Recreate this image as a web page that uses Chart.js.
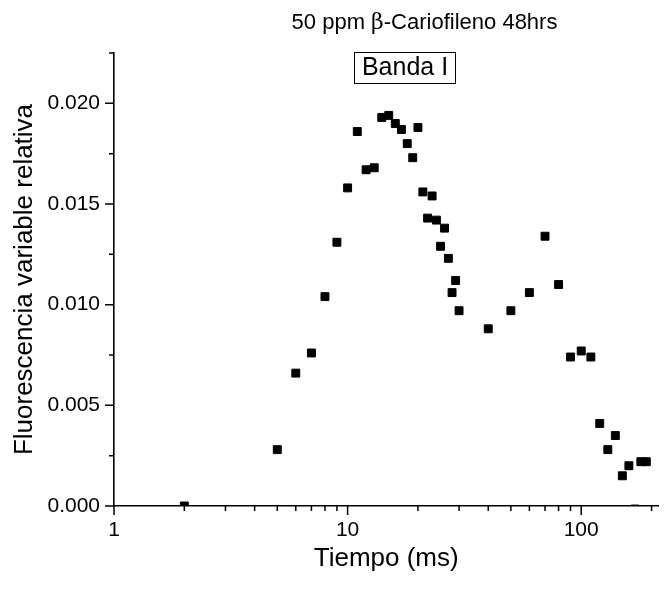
<!DOCTYPE html>
<html>
<head>
<meta charset="utf-8">
<title>Banda I</title>
<script src="https://cdn.jsdelivr.net/npm/chart.js@4.4.0/dist/chart.umd.min.js"></script>
<style>
    body { margin: 0; background: #fff; }
    #grafico { display: block; }
</style>
</head>
<body>
<canvas id="grafico" width="665" height="589"></canvas>
<script>
const tiempo = [2, 5, 6, 7, 8, 9, 10, 11, 12, 13, 14, 15, 16, 17, 18, 19, 20,
    21, 22, 23, 24, 25, 26, 27, 28, 29, 30, 40, 50, 60, 70, 80, 90,
    100, 110, 120, 130, 140, 150, 160, 170, 180, 190];
const fluorescencia = [0.0000, 0.0028, 0.0066, 0.0076, 0.0104, 0.0131, 0.0158, 0.0186, 0.0167, 0.0168, 0.0193, 0.0194, 0.0190, 0.0187, 0.0180, 0.0173, 0.0188,
    0.0156, 0.0143, 0.0154, 0.0142, 0.0129, 0.0138, 0.0123, 0.0106, 0.0112, 0.0097, 0.0088, 0.0097, 0.0106, 0.0134, 0.0110, 0.0074,
    0.0077, 0.0074, 0.0041, 0.0028, 0.0035, 0.0015, 0.0020, -0.00015, 0.0022, 0.0022];

const xTicksMayores = [1, 10, 100];
const xEtiquetas = ['1', '10', '100'];
const xTicksMenores = [2, 3, 4, 5, 6, 7, 8, 9, 20, 30, 40, 50, 60, 70, 80, 90, 200];
const yTicksMayores = [0, 0.005, 0.010, 0.015, 0.020];
const yEtiquetas = ['0.000', '0.005', '0.010', '0.015', '0.020'];
const yTicksMenores = [0.0025, 0.0075, 0.0125, 0.0175, 0.0225];

const FUENTE = "'Liberation Sans', Arial, sans-serif";

function buscar(lista, v) {
    return lista.findIndex(t => Math.abs(t - v) < 1e-9);
}

// marcas de los ejes, titulo y recuadro "Banda I"
const extras = {
    id: 'extras',
    afterDraw(chart) {
        const ctx = chart.ctx;
        const sx = chart.scales.x, sy = chart.scales.y;
        const area = chart.chartArea;
        ctx.save();
        ctx.strokeStyle = '#000';
        ctx.lineWidth = 1.5;
        ctx.beginPath();
        xTicksMayores.forEach(v => {
            const px = sx.getPixelForValue(v);
            ctx.moveTo(px, area.bottom); ctx.lineTo(px, area.bottom + 9);
        });
        xTicksMenores.forEach(v => {
            const px = sx.getPixelForValue(v);
            ctx.moveTo(px, area.bottom); ctx.lineTo(px, area.bottom + 5);
        });
        yTicksMayores.forEach(v => {
            const py = sy.getPixelForValue(v);
            ctx.moveTo(area.left, py); ctx.lineTo(area.left - 9, py);
        });
        yTicksMenores.forEach(v => {
            const py = sy.getPixelForValue(v);
            ctx.moveTo(area.left, py); ctx.lineTo(area.left - 5, py);
        });
        ctx.stroke();

        // titulo con la beta en otra fuente
        const partes = [
            { t: '50 ppm ', f: '22px ' + FUENTE },
            { t: 'β', f: "22px 'DejaVu Serif', 'Liberation Serif', serif" },
            { t: '-Cariofileno 48hrs', f: '22px ' + FUENTE }
        ];
        let total = 0;
        partes.forEach(p => { ctx.font = p.f; p.w = ctx.measureText(p.t).width; total += p.w; });
        let x = 424.5 - total / 2;
        ctx.fillStyle = '#000';
        ctx.textBaseline = 'middle';
        ctx.textAlign = 'left';
        partes.forEach(p => { ctx.font = p.f; ctx.fillText(p.t, x, 23); x += p.w; });

        ctx.lineWidth = 1;
        ctx.strokeRect(354.5, 52.5, 101, 31);
        ctx.font = '25px ' + FUENTE;
        ctx.textAlign = 'center';
        ctx.fillText('Banda I', 405, 68.5);
        ctx.restore();
    }
};

new Chart(document.getElementById('grafico'), {
    type: 'scatter',
    data: {
        datasets: [{
            data: tiempo.map((t, i) => ({ x: t, y: fluorescencia[i] })),
            pointStyle: 'rect',
            pointRadius: 5.6,
            pointHoverRadius: 5.6,
            backgroundColor: '#000',
            borderColor: '#000',
            borderWidth: 1,
            clip: 0
        }]
    },
    options: {
        responsive: false,
        animation: false,
        events: [],
        layout: { padding: { top: 53, left: 0, right: 0, bottom: 0 } },
        plugins: { legend: { display: false }, tooltip: { enabled: false } },
        scales: {
            x: {
                type: 'logarithmic',
                min: 1,
                max: 214,
                afterFit: s => { s.height = 83; },
                afterBuildTicks: s => {
                    s.ticks = xTicksMayores.concat(xTicksMenores).sort((a, b) => a - b).map(v => ({ value: v }));
                },
                grid: { display: false, drawTicks: true, tickLength: 9 },
                border: { display: true, color: '#000', width: 1.6 },
                ticks: {
                    autoSkip: false,
                    maxRotation: 0,
                    padding: 3,
                    color: '#000',
                    font: { family: FUENTE, size: 21 },
                    callback: v => { const i = buscar(xTicksMayores, v); return i >= 0 ? xEtiquetas[i] : ''; }
                },
                title: {
                    display: true,
                    text: 'Tiempo (ms)',
                    color: '#000',
                    font: { family: FUENTE, size: 26 },
                    padding: { top: 0, bottom: 15 }
                }
            },
            y: {
                min: 0,
                max: 0.0225,
                afterFit: s => { s.width = 114; },
                afterBuildTicks: s => {
                    s.ticks = yTicksMayores.concat(yTicksMenores).sort((a, b) => a - b).map(v => ({ value: v }));
                },
                grid: { display: false, drawTicks: true, tickLength: 9 },
                border: { display: true, color: '#000', width: 1.6 },
                ticks: {
                    autoSkip: false,
                    padding: 5,
                    color: '#000',
                    font: { family: FUENTE, size: 21 },
                    callback: v => { const i = buscar(yTicksMayores, v); return i >= 0 ? yEtiquetas[i] : ''; }
                },
                title: {
                    display: true,
                    text: 'Fluorescencia variable relativa',
                    color: '#000',
                    font: { family: FUENTE, size: 26 },
                    padding: { top: 9, bottom: 0 }
                }
            }
        }
    },
    plugins: [extras]
});
</script>
</body>
</html>
